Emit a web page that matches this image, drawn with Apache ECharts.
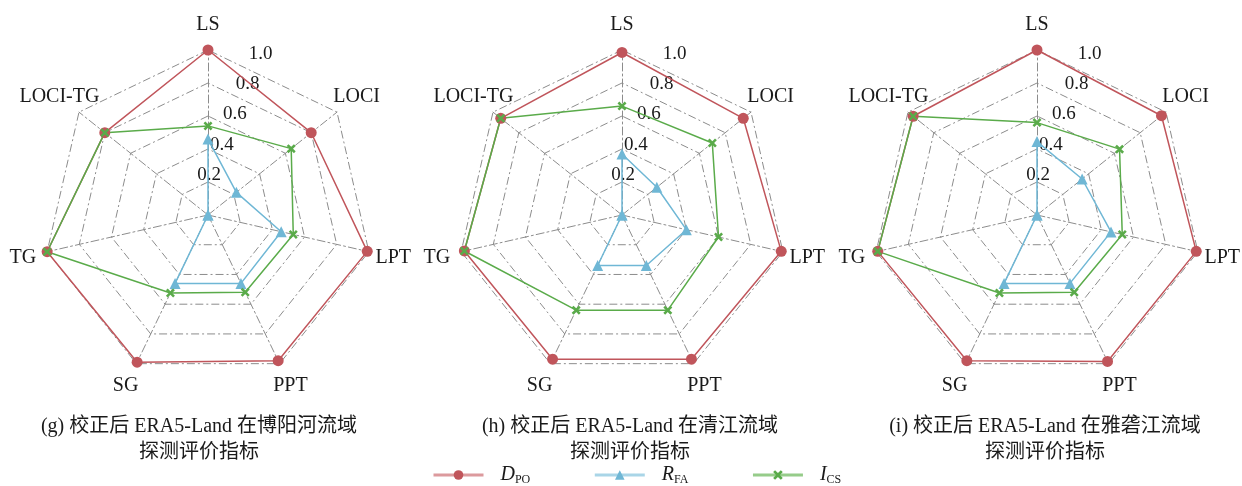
<!DOCTYPE html>
<html>
<head>
<meta charset="utf-8" />
<title>radar</title>
<script src="https://cdn.jsdelivr.net/npm/echarts@6/dist/echarts.min.js"></script>
<style>
  * { margin: 0; padding: 0; }
  body { background: #fff; }
  #main { width: 1242px; height: 486px; }
</style>
</head>
<body>
<div id="main"></div>
<script>
// indicator names, clockwise from the top
var indicators = ['LS', 'LOCI', 'LPT', 'PPT', 'SG', 'TG', 'LOCI-TG'];
var ticks = [0, 0.2, 0.4, 0.6, 0.8, 1.0];
var captions = [
  '(g) 校正后 ERA5-Land 在博阳河流域\n探测评价指标',
  '(h) 校正后 ERA5-Land 在清江流域\n探测评价指标',
  '(i) 校正后 ERA5-Land 在雅砻江流域\n探测评价指标'
];

// (g) 博阳河
var dpoG = [1.0, 0.80, 0.99, 0.98, 0.99, 1.0, 0.80];
var rfaG = [0.46, 0.22, 0.455, 0.46, 0.46, 0, 0];
var icsG = [0.54, 0.645, 0.53, 0.52, 0.525, 1.0, 0.80];
// (h) 清江
var dpoH = [0.985, 0.94, 0.99, 0.97, 0.97, 0.98, 0.94];
var rfaH = [0.37, 0.27, 0.40, 0.34, 0.34, 0, 0];
var icsH = [0.66, 0.70, 0.60, 0.64, 0.64, 0.98, 0.94];
// (i) 雅砻江
var dpoI = [1.0, 0.965, 0.99, 0.985, 0.98, 0.99, 0.96];
var rfaI = [0.445, 0.35, 0.46, 0.46, 0.46, 0, 0];
var icsI = [0.56, 0.64, 0.53, 0.52, 0.525, 0.99, 0.96];

var panels = [[dpoG, rfaG, icsG], [dpoH, rfaH, icsH], [dpoI, rfaI, icsI]];
var centersX = [208, 622, 1037];
var captionX = [194, 625, 1040];
var centerY = 215;
var R = 165;

var red = '#c0555b', blue = '#6fb7d5', green = '#5aab4a', grid = '#8c8c8c';
var lightColors = ['#dc9a9d', '#a9d5e7', '#96cc8a'];
var dashDot = [8, 3, 2, 3];
var crossPath = 'path://M2,0L5,3L8,0L10,2L7,5L10,8L8,10L5,7L2,10L0,8L3,5L0,2Z';
var serif = '"Liberation Serif", "Times New Roman", "Noto Sans CJK SC", serif';

// ECharts radar runs counter-clockwise, so reorder
var order = [0, 6, 5, 4, 3, 2, 1];
function reorder(arr) { return order.map(function (i) { return arr[i]; }); }

var radars = [], polars = [], angleAxes = [], radiusAxes = [], series = [], titles = [];
var names = ['DPO', 'RFA', 'ICS'];
var colors = [red, blue, green];
var symbols = ['circle', 'triangle', crossPath];
var sizes = [11, 11, 9];

// legend-only line series (gives the line + marker legend icon)
for (var k = 0; k < 3; k++) {
  series.push({
    type: 'line', name: names[k], data: [], symbol: symbols[k],
    itemStyle: { color: colors[k] },
    lineStyle: { color: lightColors[k], width: 3 }
  });
}

for (var p = 0; p < 3; p++) {
  radars.push({
    center: [centersX[p], centerY],
    radius: R,
    shape: 'polygon',
    splitNumber: 5,
    nameGap: 25,
    axisName: { color: '#1a1a1a', fontSize: 20, fontFamily: serif, align: 'center', verticalAlign: 'middle' },
    indicator: reorder(indicators).map(function (n) { return { name: n, min: 0, max: 1 }; }),
    splitLine: { lineStyle: { color: grid, width: 1, type: dashDot } },
    axisLine: { lineStyle: { color: grid, width: 1, type: dashDot } },
    splitArea: { show: false }
  });
  polars.push({ center: [centersX[p], centerY], radius: R });
  angleAxes.push({ polarIndex: p, type: 'value', startAngle: 67, show: false });
  radiusAxes.push({
    polarIndex: p, min: ticks[0], max: ticks[ticks.length - 1], interval: 0.2,
    axisLine: { show: false }, axisTick: { show: false }, splitLine: { show: false },
    axisLabel: {
      showMinLabel: false, margin: 0, verticalAlign: 'bottom',
      color: '#1a1a1a', fontSize: 19, fontFamily: serif,
      formatter: function (v) { return v.toFixed(1); }
    }
  });
  for (var s = 0; s < 3; s++) {
    series.push({
      type: 'radar', radarIndex: p, name: names[s],
      symbol: symbols[s], symbolSize: sizes[s],
      lineStyle: { color: colors[s], width: 1.5 },
      itemStyle: { color: colors[s] },
      data: [{ value: reorder(panels[p][s]), name: names[s] }]
    });
  }
  titles.push({
    text: captions[p], left: captionX[p], top: 409, textAlign: 'center',
    textStyle: { fontSize: 20, fontWeight: 'normal', color: '#1a1a1a', fontFamily: serif, lineHeight: 26 }
  });
}

var chart = echarts.init(document.getElementById('main'));
chart.setOption({
  animation: false,
  title: titles,
  grid: { left: 0, top: 0, width: 1, height: 1, show: false },
  xAxis: { type: 'value', show: false },
  yAxis: { type: 'value', show: false },
  legend: {
    data: names, top: 460, left: 427, itemWidth: 50, itemHeight: 12, itemGap: 63,
    lineStyle: { width: 3 },
    formatter: function (n) { return '{i|' + n.charAt(0) + '}{s|' + n.slice(1) + '}'; },
    textStyle: {
      rich: {
        i: { fontSize: 20, fontStyle: 'italic', fontFamily: serif, color: '#1a1a1a', padding: [0, 0, 0, 12] },
        s: { fontSize: 12, fontFamily: serif, color: '#1a1a1a', verticalAlign: 'bottom', padding: [10, 0, 0, 0] }
      }
    }
  },
  radar: radars,
  polar: polars,
  angleAxis: angleAxes,
  radiusAxis: radiusAxes,
  series: series
});
</script>
</body>
</html>
